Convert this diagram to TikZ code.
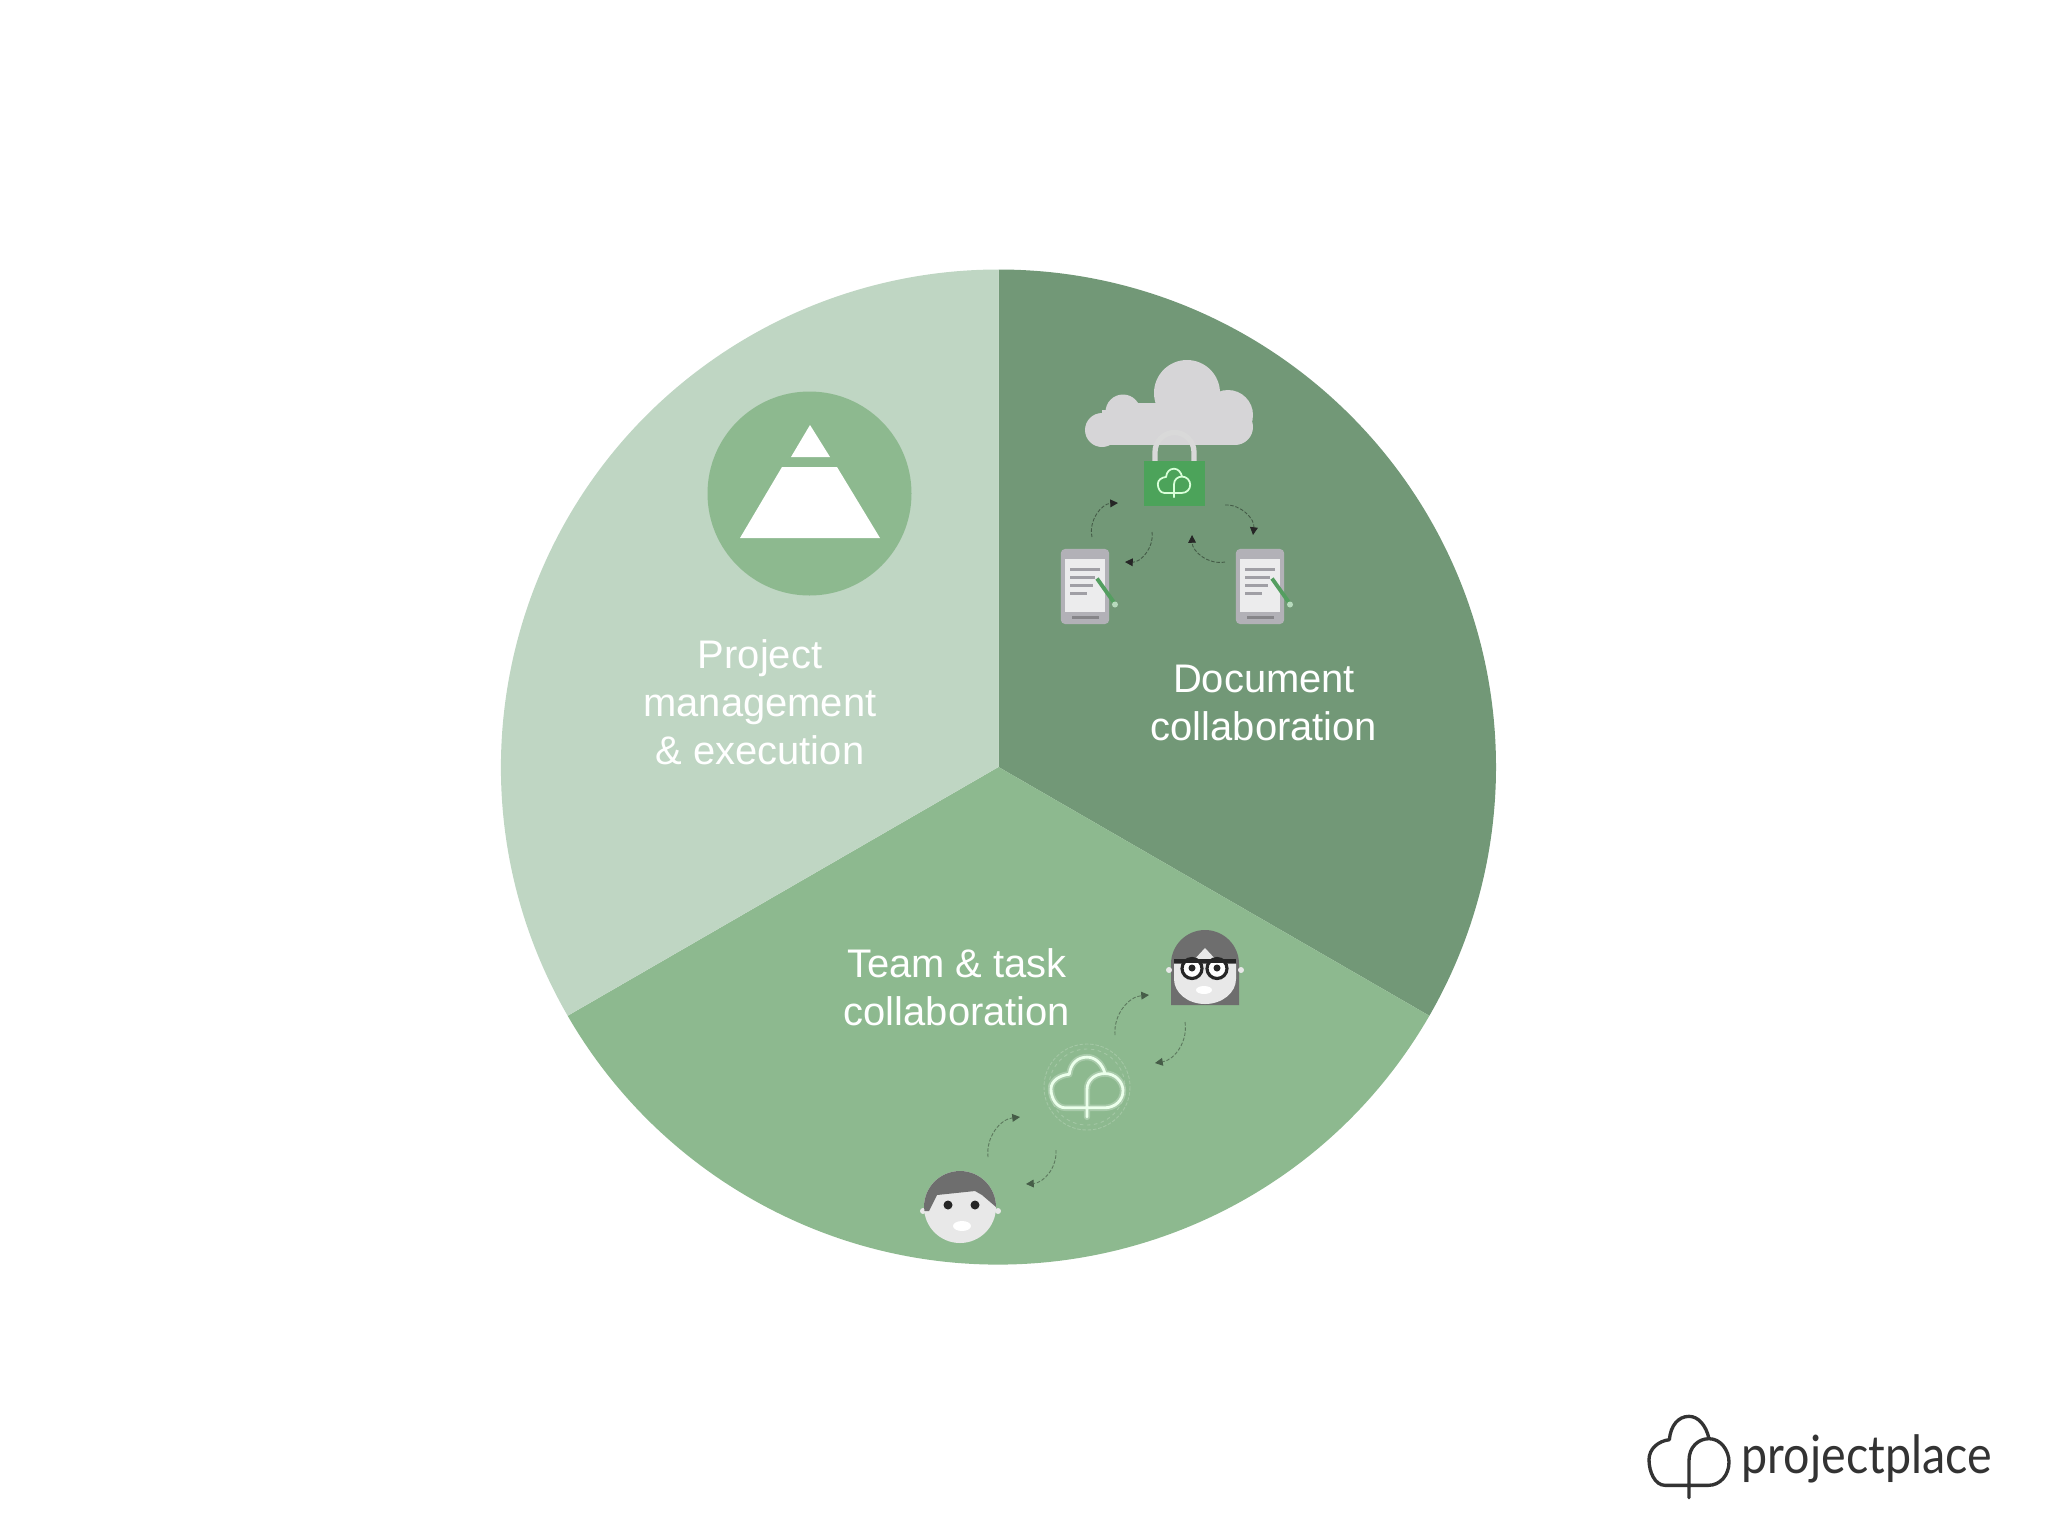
\documentclass[tikz,border=0pt]{standalone}
\usepackage{fontspec}
\setmainfont{Liberation Sans}
\newfontfamily\logofont{Lato}
\usetikzlibrary{arrows.meta}

\definecolor{sliceDark}{HTML}{729877}
\definecolor{sliceMid}{HTML}{8DB98F}
\definecolor{sliceLight}{HTML}{BFD6C3}
\definecolor{cloudGrey}{HTML}{D6D5D7}
\definecolor{lockGreen}{HTML}{4CA35A}
\definecolor{hairGrey}{HTML}{6E6E6E}
\definecolor{faceGrey}{HTML}{E8E8E8}
\definecolor{tabletGrey}{HTML}{B2B1B7}
\definecolor{logoInk}{HTML}{333333}

\tikzset{
  slicelabel/.style={text=white, align=center, font=\fontsize{11.35}{13.66}\selectfont},
  flowarrow/.style={line width=0.25pt, dash pattern=on 1pt off 0.5pt, -{Triangle[length=2.2pt,width=2.2pt,color=#1]}},
  tabletbody/.style={fill=tabletGrey, rounded corners=1.2pt, minimum width=0.483cm, minimum height=0.75cm, inner sep=0pt},
  treecloud/.pic={
    \draw[pic actions, line cap=round, line join=round] (0,122) -- (0,10)
      .. controls (0,-30) and (28,-55) .. (60,-55)
      .. controls (95,-55) and (120,-20) .. (120,15)
      .. controls (120,55) and (93,85) .. (58,85) -- (-72,85)
      .. controls (-102,85) and (-120,45) .. (-120,8)
      .. controls (-120,-25) and (-92,-48) .. (-59,-52)
      .. controls (-55,-95) and (-32,-122) .. (0,-122)
      .. controls (28,-122) and (51,-95) .. (60,-55);
  },
  docscreen/.pic={
    \fill[tabletGrey!25!white] (-20,-28) rectangle (20,25);
    \fill[tabletGrey!75!black] (-13,29) rectangle (14,32);
    \draw[tabletGrey!90!black, line width=0.7pt] (-15,-17) -- (15,-17) (-15,-9) -- (10,-9) (-15,-1) -- (8,-1) (-15,7) -- (2,7);
    \draw[lockGreen!85!gray, line width=1.1pt] (12,-8) -- (29,16);
    \fill[lockGreen!40!white] (30,18) circle (3);
  }
}

\begin{document}
\begin{tikzpicture}[x=0.01cm, y=-0.01cm]
    \useasboundingbox (0,0) rectangle (2048,1536);

    % Sectores del círculo
    \fill[sliceDark] (998.5,767) -- ++(-90:497.5) arc[start angle=-90, end angle=30, radius=497.5] -- cycle;
    \fill[sliceMid] (998.5,767) -- ++(30:497.5) arc[start angle=30, end angle=150, radius=497.5] -- cycle;
    \fill[sliceLight] (998.5,767) -- ++(150:497.5) arc[start angle=150, end angle=270, radius=497.5] -- cycle;

    % Pirámide
    \fill[sliceMid] (809.5,493.5) circle (102);
    \fill[white] (810,425) -- (830,457) -- (791,457) -- cycle;
    \fill[white] (782,467) -- (837,467) -- (880,538) -- (740,538) -- cycle;

    % Etiquetas
    \node[slicelabel] (projectlabel) at (760,702) {Project\\management\\\& execution};
    \node[slicelabel] (documentlabel) at (1264,703) {Document\\collaboration};
    \node[slicelabel] (teamlabel) at (957,987) {Team \& task\\collaboration};

    % Nube
    \foreach \cx/\cy/\cr in {1102/430/17, 1123/412/17.5, 1187/393/33, 1228/415/25, 1235/427/18}
        \fill[cloudGrey] (\cx,\cy) circle (\cr);
    \fill[cloudGrey] (1102,410) rectangle (1235,445);
    \fill[cloudGrey] (1125,403) rectangle (1180,420);

    % Candado
    \draw[white!70!gray, line width=1.5pt] (1155,461) -- (1155,452) arc[start angle=180, end angle=360, radius=19.5] -- (1194,461);
    \node[fill=lockGreen, minimum width=0.61cm, minimum height=0.45cm, inner sep=0pt] (lockbody) at (1174.5,483.5) {};
    \pic[draw=green!15!white, line width=0.5pt, xscale=0.135, yscale=0.117] at (1174,483) {treecloud};

    % Documentos
    \node[tabletbody] (tabletleft) at (1085,586.5) {};
    \node[tabletbody] (tabletright) at (1260,586.5) {};
    \pic at (1085,586.5) {docscreen};
    \pic at (1260,586.5) {docscreen};

    % Flechas de los documentos
    \coordinate (docAstart) at (1092,537);
    \coordinate (docAend) at (1118,503);
    \coordinate (docBstart) at (1152,532);
    \coordinate (docBend) at (1125,562);
    \coordinate (docCstart) at (1225,562);
    \coordinate (docCend) at (1192,535);
    \coordinate (docDstart) at (1225,505);
    \coordinate (docDend) at (1253,535);
    \draw[flowarrow=black!85, black!40!sliceDark] (docAstart) to[bend left=50] (docAend);
    \draw[flowarrow=black!85, black!40!sliceDark] (docBstart) to[bend left=50] (docBend);
    \draw[flowarrow=black!85, black!40!sliceDark] (docCstart) to[bend left=50] (docCend);
    \draw[flowarrow=black!85, black!40!sliceDark] (docDstart) to[bend left=50] (docDend);

    % Nube del equipo
    \draw[sliceMid!80!white, line width=0.25pt, dash pattern=on 1pt off 0.5pt] (1087,1087) circle (43);
    \draw[sliceMid!80!white, line width=0.25pt, dash pattern=on 1pt off 1pt] (1087,1087) circle (38);
    \pic[draw=white!70!sliceMid, line width=1.8pt, opacity=0.35, xscale=0.3, yscale=0.245] at (1087,1087) {treecloud};
    \pic[draw=green!8!white, line width=0.8pt, xscale=0.3, yscale=0.245] at (1087,1087) {treecloud};

    % Chica
    \begin{scope}[shift={(1205,967)}]
        \fill[hairGrey] (-34,38) -- (-34,-3) arc[start angle=180, end angle=360, radius=34] -- (34,38) -- cycle;
        \fill[faceGrey] (-31,-3) -- (31,-3) -- (31,12) arc[start angle=0, end angle=180, x radius=31, y radius=25] -- cycle;
        \fill[faceGrey] (0,-19) -- (13,-5) -- (-13,-5) -- cycle;
        \fill[faceGrey] (-36,3) circle (3) (36,3) circle (3);
        \fill[white] (-13,1.5) circle (10) (12,1.5) circle (10);
        \fill[white] (-1,23) ellipse (8 and 4);
        \draw[black!85, line width=0.9pt] (-13,1.5) circle (10) (12,1.5) circle (10);
        \draw[black!85, line width=1pt] (-31,-6) -- (31,-6);
        \fill[black!85] (-13,1) circle (3.5) (12,1) circle (3.5);
    \end{scope}

    % Chico
    \begin{scope}[shift={(960,1208)}]
        \fill[faceGrey] (-37,3) circle (3) (38,3) circle (3);
        \fill[faceGrey] (0,-1) circle (36);
        \fill[hairGrey] (-35.5,3) -- (-36,-1) arc[start angle=180, end angle=360, radius=36] -- (22,-13) -- (15,-17) -- (-23,-13) -- (-31,3) -- cycle;
        \fill[black!85] (-12,-3) circle (4.5) (15,-3) circle (4.5);
        \fill[white] (2,18) ellipse (9 and 5);
    \end{scope}

    % Flechas del equipo
    \coordinate (teamAstart) at (1115,1035);
    \coordinate (teamAend) at (1149,995);
    \coordinate (teamBstart) at (1185,1022);
    \coordinate (teamBend) at (1155,1063);
    \coordinate (teamCstart) at (988,1157);
    \coordinate (teamCend) at (1020,1117);
    \coordinate (teamDstart) at (1056,1150);
    \coordinate (teamDend) at (1026,1184);
    \draw[flowarrow=black!50!sliceMid, black!35!sliceMid] (teamAstart) to[bend left=45] (teamAend);
    \draw[flowarrow=black!50!sliceMid, black!35!sliceMid] (teamBstart) to[bend left=45] (teamBend);
    \draw[flowarrow=black!50!sliceMid, black!35!sliceMid] (teamCstart) to[bend left=45] (teamCend);
    \draw[flowarrow=black!50!sliceMid, black!35!sliceMid] (teamDstart) to[bend left=45] (teamDend);

    % Logotipo
    \pic[draw=logoInk, line width=0.95pt, scale=0.3333] at (1689,1457) {treecloud};
    \node[anchor=base west, inner sep=0pt, text=logoInk, font=\logofont\fontsize{15}{18}\selectfont] (logotext) at (1741,1473) {\scalebox{0.884}[1]{projectplace}};
\end{tikzpicture}
\end{document}
